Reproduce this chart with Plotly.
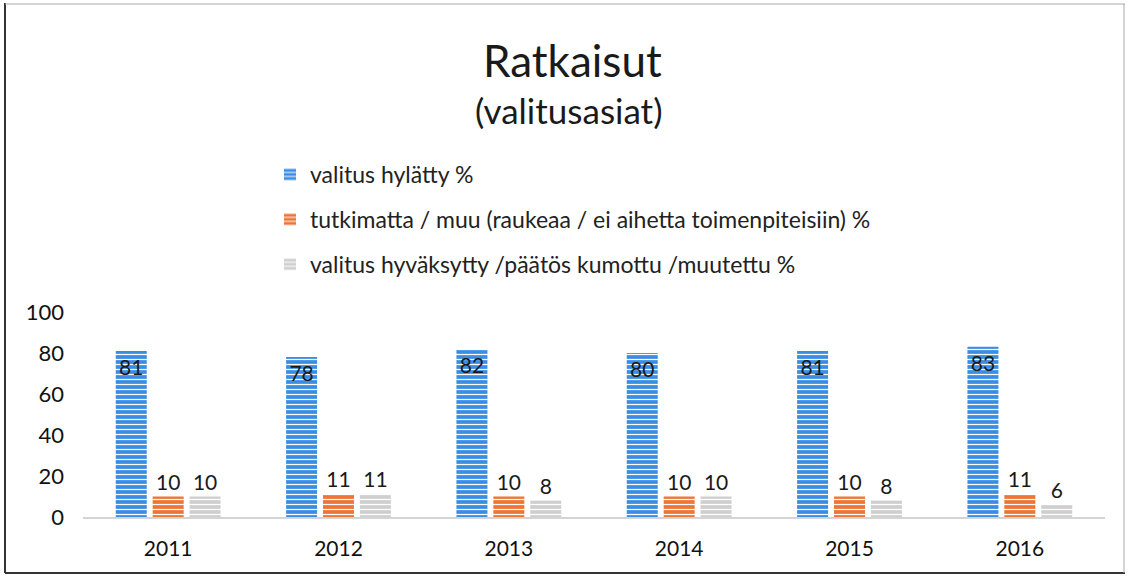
import plotly.graph_objects as go

years = ["2011", "2012", "2013", "2014", "2015", "2016"]
hylatty = [81, 78, 82, 80, 81, 83]
tutkimatta = [10, 11, 10, 10, 10, 11]
hyvaksytty = [10, 11, 8, 10, 8, 6]
names = [
    "valitus hylätty %",
    "tutkimatta / muu (raukeaa / ei aihetta toimenpiteisiin) %",
    "valitus hyväksytty /päätös kumottu /muutettu %",
]
colors = ["#3a8de3", "#ed7535", "#cfcfcf"]

W, H = 1128, 577
L, R, T, B = 83, 23, 312, 60
pw, ph = W - L - R, H - T - B

def px(x):
    return (x - L) / pw

def py(y):
    return (H - B - y) / ph

FONT = "Lato, 'Open Sans', sans-serif"
fig = go.Figure()
series = [hylatty, tutkimatta, hyvaksytty]
for i, (vals, nm, col) in enumerate(zip(series, names, colors)):
    fig.add_trace(go.Bar(
        x=years, y=vals, name=nm, legendgroup=f"g{i}",
        text=[str(v) for v in vals],
        textposition="inside" if i == 0 else "outside",
        insidetextanchor="end",
        textangle=0,
        cliponaxis=False,
        textfont=dict(size=21, color="#1a1a1a", family=FONT),
        marker=dict(color=col, line=dict(width=0),
                    pattern=dict(shape="-", fillmode="replace", fgcolor="white",
                                 bgcolor=col, size=5, solidity=0.25)),
    ))

fig.update_layout(
    width=W, height=H,
    margin=dict(l=L, r=R, t=T, b=B, autoexpand=False),
    paper_bgcolor="white", plot_bgcolor="white",
    barmode="group", bargap=0.35, bargroupgap=0.16,
    font=dict(family=FONT, color="#222", size=18),
    showlegend=True,
    legend=dict(x=px(270), y=py(153), xanchor="left", yanchor="top",
                orientation="v", tracegroupgap=12,
                font=dict(size=23, color="#222", family=FONT),
                itemwidth=30, bgcolor="rgba(0,0,0,0)"),
    xaxis=dict(showline=True, linecolor="#d4d4d4", linewidth=2, ticks="",
               showgrid=False, ticklabelstandoff=12,
               tickfont=dict(size=21, color="#111")),
    yaxis=dict(range=[0, 100], tickvals=[0, 20, 40, 60, 80, 100], showgrid=False,
               zeroline=False, showline=False, ticks="", ticklabelstandoff=18,
               tickfont=dict(size=22, color="#111")),
    annotations=[
        dict(text="Ratkaisut", x=px(572), y=py(60), xref="paper", yref="paper",
             xanchor="center", yanchor="middle",
             showarrow=False, font=dict(size=44, color="#1a1a1a", family=FONT)),
        dict(text="(valitusasiat)", x=px(569), y=py(110), xref="paper", yref="paper",
             xanchor="center", yanchor="middle",
             showarrow=False, font=dict(size=35, color="#1a1a1a", family=FONT)),
    ],
    shapes=[
        dict(type="line", xref="paper", yref="paper", x0=px(5), x1=px(5), y0=py(3), y1=py(573),
             line=dict(color="#333", width=2)),
        dict(type="line", xref="paper", yref="paper", x0=px(5), x1=px(1125), y0=py(573), y1=py(573),
             line=dict(color="#333", width=2)),
        dict(type="line", xref="paper", yref="paper", x0=px(5), x1=px(1125), y0=py(4), y1=py(4),
             line=dict(color="#aaa", width=1)),
        dict(type="line", xref="paper", yref="paper", x0=px(1124), x1=px(1124), y0=py(4), y1=py(573),
             line=dict(color="#aaa", width=1)),
    ],
)

fig.write_html("out.html", config={"displayModeBar": False},
               post_script="document.body.style.margin='0';document.body.style.overflow='hidden';")
